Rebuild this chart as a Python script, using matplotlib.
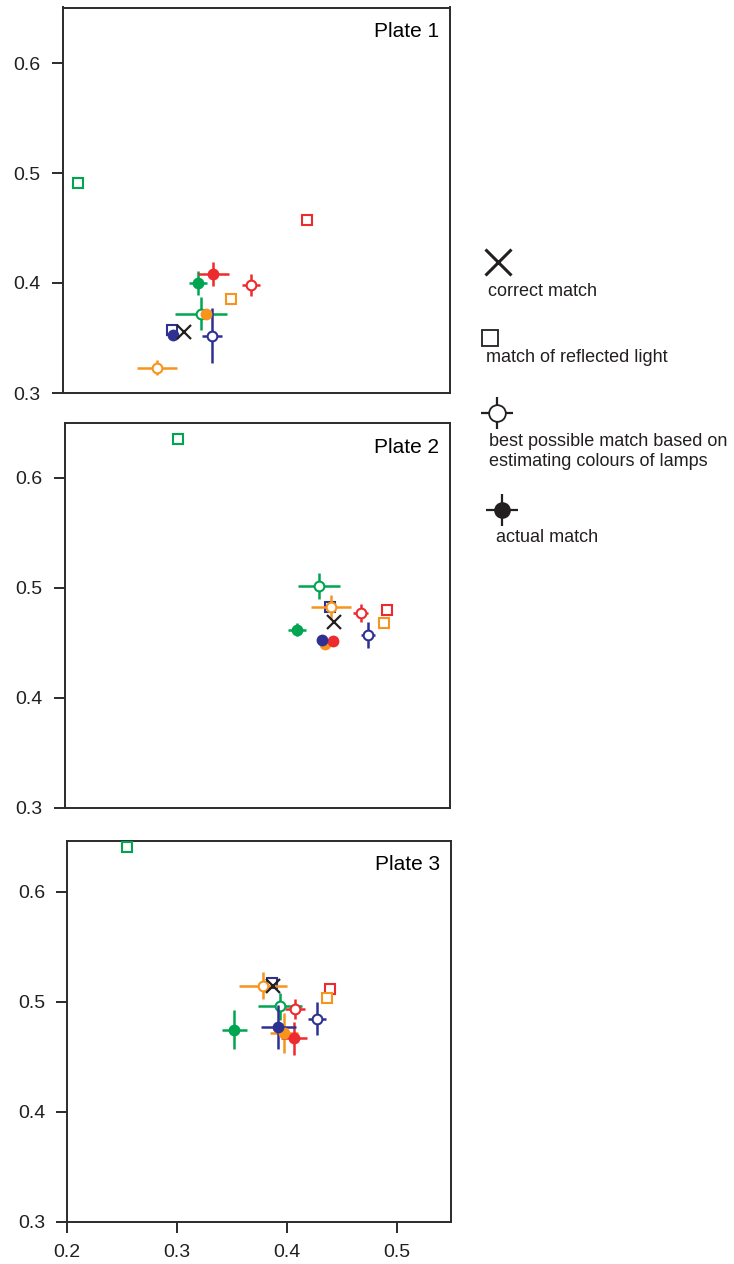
import numpy as np
import matplotlib
matplotlib.use("Agg")
import matplotlib.pyplot as plt

plt.rcParams['font.family'] = ['Liberation Sans', 'DejaVu Sans']

# lamp colours, same order in every array below
colours = ['#ed2a2e', '#00a551', '#f7941d', '#2e3192']

# plate 1
p1_refl_x = [0.422, 0.214, 0.353, 0.299]
p1_refl_y = [0.457, 0.491, 0.385, 0.357]
p1_best_x = [0.371, 0.326, 0.286, 0.336]
p1_best_y = [0.398, 0.372, 0.323, 0.352]
p1_best_xerr = [0.008, 0.0235, 0.018, 0.009]
p1_best_yerr = [0.010, 0.015, 0.007, 0.025]
p1_act_x = [0.337, 0.323, 0.330, 0.300]
p1_act_y = [0.408, 0.400, 0.372, 0.353]
p1_act_xerr = [0.014, 0.008, 0.0, 0.0]
p1_act_yerr = [0.011, 0.011, 0.0, 0.0]
p1_correct = (0.310, 0.355)

# plate 2
p2_refl_x = [0.493, 0.303, 0.490, 0.441]
p2_refl_y = [0.480, 0.635, 0.468, 0.483]
p2_best_x = [0.469, 0.431, 0.442, 0.476]
p2_best_y = [0.477, 0.502, 0.483, 0.457]
p2_best_xerr = [0.007, 0.019, 0.018, 0.0065]
p2_best_yerr = [0.008, 0.012, 0.011, 0.012]
p2_act_x = [0.444, 0.411, 0.437, 0.434]
p2_act_y = [0.452, 0.462, 0.449, 0.453]
p2_act_xerr = [0.0, 0.008, 0.0, 0.0]
p2_act_yerr = [0.0, 0.006, 0.0, 0.0]
p2_correct = (0.445, 0.469)

# plate 3
p3_refl_x = [0.439, 0.254, 0.436, 0.386]
p3_refl_y = [0.512, 0.641, 0.504, 0.517]
p3_best_x = [0.407, 0.393, 0.378, 0.427]
p3_best_y = [0.494, 0.496, 0.515, 0.485]
p3_best_xerr = [0.0094, 0.020, 0.022, 0.008]
p3_best_yerr = [0.009, 0.012, 0.012, 0.015]
p3_act_x = [0.406, 0.352, 0.397, 0.392]
p3_act_y = [0.467, 0.475, 0.472, 0.477]
p3_act_xerr = [0.012, 0.011, 0.013, 0.016]
p3_act_yerr = [0.015, 0.018, 0.018, 0.020]
p3_correct = (0.387, 0.515)

plates = [
    ("Plate 1", p1_refl_x, p1_refl_y, p1_best_x, p1_best_y, p1_best_xerr, p1_best_yerr,
     p1_act_x, p1_act_y, p1_act_xerr, p1_act_yerr, p1_correct),
    ("Plate 2", p2_refl_x, p2_refl_y, p2_best_x, p2_best_y, p2_best_xerr, p2_best_yerr,
     p2_act_x, p2_act_y, p2_act_xerr, p2_act_yerr, p2_correct),
    ("Plate 3", p3_refl_x, p3_refl_y, p3_best_x, p3_best_y, p3_best_xerr, p3_best_yerr,
     p3_act_x, p3_act_y, p3_act_xerr, p3_act_yerr, p3_correct),
]

W, H = 734, 1264
fig = plt.figure(figsize=(W / 100, H / 100), dpi=100)

# panel boxes in pixels: left, top, right, bottom
boxes = [(62.7, 7.5, 449.5, 393), (64.7, 423, 450, 808), (67.3, 840.7, 451, 1222)]

spine_col = '#2b2b2b'
for i, (box, pl) in enumerate(zip(boxes, plates)):
    (name, rx, ry, bx, by, bxe, bye, ax_, ay_, axe, aye, corr) = pl
    l, t, r, b = box
    ax = fig.add_axes([l / W, 1 - b / H, (r - l) / W, (b - t) / H])
    ax.set_xlim(0.2, 0.2 + (r - l) / 1100)
    ax.set_ylim(0.3, 0.3 + (b - t) / 1100)

    # reflected-light matches
    for k in range(4):
        ax.plot(rx[k], ry[k], 's', ms=7.5, mfc='white', mec=colours[k], mew=1.5, zorder=3)
    # best possible matches
    for k in range(4):
        ax.errorbar(bx[k], by[k], xerr=bxe[k], yerr=bye[k], fmt='o', ms=7, mfc='white',
                    mec=colours[k], mew=1.5, ecolor=colours[k], elinewidth=1.8,
                    capsize=0, zorder=4)
    # actual matches
    for k in [1, 2, 0, 3]:
        ax.errorbar(ax_[k], ay_[k], xerr=axe[k] if axe[k] > 0 else None,
                    yerr=aye[k] if aye[k] > 0 else None, fmt='o', ms=8.5,
                    mfc=colours[k], mec=colours[k], mew=0, ecolor=colours[k],
                    elinewidth=1.8, capsize=0, zorder=5)
    ax.plot(corr[0], corr[1], 'x', ms=10, mew=1.6, color='#231f20', zorder=6)

    ax.text(0.972, 0.962, name, transform=ax.transAxes, ha='right', va='top', fontsize=15)

    for s in ax.spines.values():
        s.set_linewidth(1.4)
        s.set_color(spine_col)
    ax.set_yticks([0.3, 0.4, 0.5, 0.6])
    ax.set_yticklabels(['0.3', '0.4', '0.5', '0.6'])
    if i == 2:
        ax.set_xticks([0.2, 0.3, 0.4, 0.5])
        ax.set_xticklabels(['0.2', '0.3', '0.4', '0.5'])
    else:
        ax.set_xticks([])
    ax.tick_params(direction='out', length=8, width=1.4, color=spine_col,
                   labelsize=14, pad=8, labelcolor='#231f20')

# key on the right, laid out in pixel units
lg = fig.add_axes([0, 0, 1, 1])
lg.set_xlim(0, W)
lg.set_ylim(H, 0)
lg.axis('off')
txt = dict(fontsize=13, va='center', ha='left', color='#231f20')

lg.plot(498, 262, 'x', ms=19, mew=2.2, color='#231f20')
lg.text(488, 291, 'correct match', **txt)

lg.plot(490, 338, 's', ms=11, mfc='white', mec='#231f20', mew=1.3)
lg.text(486, 357, 'match of reflected light', **txt)

lg.errorbar(497, 413, xerr=16, yerr=16, fmt='o', ms=12, mfc='white', mec='#231f20',
            mew=1.3, ecolor='#231f20', elinewidth=1.6, capsize=0)
lg.text(489, 441, 'best possible match based on', **txt)
lg.text(489, 461, 'estimating colours of lamps', **txt)

lg.errorbar(502, 510, xerr=16, yerr=16, fmt='o', ms=12, mfc='#231f20', mec='#231f20',
            mew=0, ecolor='#231f20', elinewidth=1.6, capsize=0)
lg.text(496, 538, 'actual match', **txt)

fig.savefig('out.png', dpi=100)
